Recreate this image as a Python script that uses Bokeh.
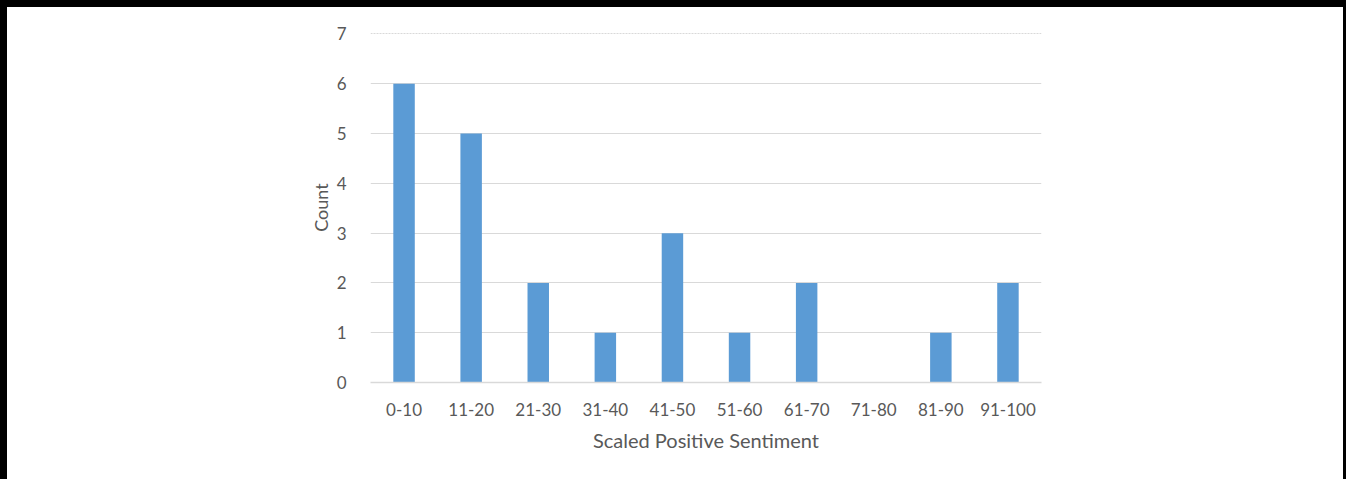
from bokeh.plotting import figure
from bokeh.models import FactorRange, Range1d, Grid, FixedTicker, ColumnDataSource
from bokeh.embed import file_html
from bokeh.resources import INLINE

# Histogram of scaled positive sentiment scores
bins = ["0-10", "11-20", "21-30", "31-40", "41-50",
        "51-60", "61-70", "71-80", "81-90", "91-100"]
counts = [6, 5, 2, 1, 3, 1, 2, 0, 1, 2]
y_ticks = [0, 1, 2, 3, 4, 5, 6, 7]

x_title = "Scaled Positive Sentiment"
y_title = "Count"

BAR = "#5B9BD5"
TEXT = "#595959"
GRID = "#d9d9d9"
FONT = "Lato"

source = ColumnDataSource(data=dict(bins=bins, counts=counts))

p = figure(
    x_range=FactorRange(*bins, range_padding=0),
    y_range=Range1d(0, 7.03),
    width=1346, height=479,
    output_backend="svg", toolbar_location=None,
    min_border_left=363, min_border_right=312,
    min_border_top=25, min_border_bottom=104,
)
p.styles = {"border-top": "7px solid black",
            "border-left": "7px solid black",
            "border-right": "3px solid black"}

p.vbar(x="bins", top="counts", width=0.32, source=source,
       fill_color=BAR, line_color=None)

p.outline_line_color = None
p.background_fill_color = "white"
p.border_fill_color = "white"

# y axis: labels only
p.yaxis.ticker = FixedTicker(ticks=y_ticks)
p.yaxis.axis_line_color = None
p.yaxis.major_tick_line_color = None
p.yaxis.minor_tick_line_color = None
p.yaxis.major_label_standoff = 18
p.yaxis.major_label_text_font = FONT
p.yaxis.major_label_text_font_size = "17px"
p.yaxis.major_label_text_color = TEXT
p.yaxis.axis_label = y_title
p.yaxis.axis_label_text_font = FONT
p.yaxis.axis_label_text_font_size = "18px"
p.yaxis.axis_label_text_font_style = "normal"
p.yaxis.axis_label_text_color = TEXT
p.yaxis.axis_label_standoff = 2

# x axis: baseline plus category labels
p.xaxis.axis_line_color = GRID
p.xaxis.axis_line_width = 1.5
p.xaxis.major_tick_line_color = None
p.xaxis.minor_tick_line_color = None
p.xaxis.major_label_standoff = 14
p.xaxis.major_label_text_font = FONT
p.xaxis.major_label_text_font_size = "17px"
p.xaxis.major_label_text_color = TEXT
p.xaxis.axis_label = x_title
p.xaxis.axis_label_text_font = FONT
p.xaxis.axis_label_text_font_size = "20px"
p.xaxis.axis_label_text_font_style = "normal"
p.xaxis.axis_label_text_color = TEXT
p.xaxis.axis_label_standoff = 9

# horizontal gridlines: solid below the top, dotted at the top
p.xgrid.grid_line_color = None
p.ygrid.ticker = FixedTicker(ticks=y_ticks[1:-1])
p.ygrid.grid_line_color = GRID
p.ygrid.grid_line_width = 1.2
top_grid = Grid(dimension=1, ticker=FixedTicker(ticks=y_ticks[-1:]),
                grid_line_color=GRID, grid_line_width=1.2, grid_line_dash="2 1")
p.add_layout(top_grid)

open("out.html", "w").write(file_html(p, INLINE))
